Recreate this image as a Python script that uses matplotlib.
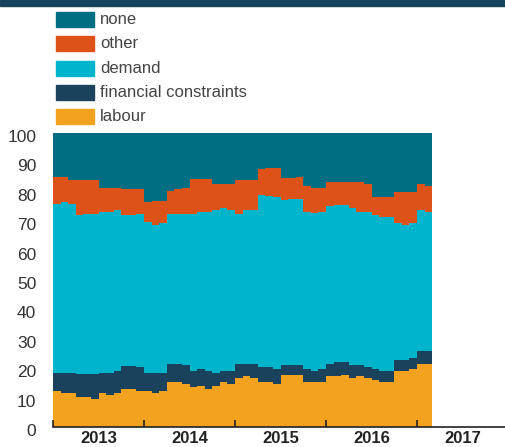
import matplotlib.pyplot as plt
from matplotlib.patches import Rectangle
from matplotlib.transforms import ScaledTranslation
import numpy as np

plt.rcParams['font.family'] = ['Liberation Sans', 'DejaVu Sans']

# monthly survey shares, Jan 2013 - Feb 2017 (percent)
labour = [12.1, 11.6, 11.6, 10.3, 10.3, 9.6, 11.6, 11.0, 11.6, 12.8, 12.8, 12.2,
          12.1, 11.6, 12.1, 15.3, 15.3, 14.7, 13.5, 14.1, 12.8, 14.1, 15.3, 14.7,
          16.6, 17.2, 16.6, 15.3, 15.3, 14.7, 17.8, 17.8, 17.8, 15.3, 15.3, 15.3,
          17.2, 17.2, 17.8, 16.6, 17.2, 16.6, 16.0, 15.3, 15.3, 19.0, 19.0, 19.6,
          21.5, 21.5]
financial = [6.4, 6.9, 6.9, 7.6, 7.6, 8.3, 6.9, 7.5, 7.4, 8.1, 8.1, 8.1,
             6.4, 6.9, 6.4, 6.2, 6.2, 6.3, 5.5, 5.5, 6.2, 4.4, 3.7, 4.3,
             4.9, 4.3, 4.9, 5.0, 5.0, 5.0, 3.2, 3.2, 3.2, 4.4, 3.7, 4.4,
             4.3, 5.0, 4.4, 4.4, 3.8, 3.7, 3.7, 3.7, 3.7, 3.9, 3.9, 3.9,
             4.5, 4.5]
demand = [57.2, 57.9, 57.2, 54.1, 54.7, 54.7, 54.5, 54.5, 54.8, 51.1, 51.1, 52.3,
          51.3, 50.3, 50.9, 51.1, 51.1, 51.6, 53.6, 53.5, 54.1, 55.3, 55.4, 54.8,
          51.1, 52.3, 52.3, 58.5, 58.4, 58.4, 56.1, 56.7, 56.7, 53.5, 53.7, 53.5,
          53.6, 53.4, 53.4, 53.5, 52.1, 52.8, 52.3, 52.3, 52.3, 46.5, 45.9, 45.9,
          47.8, 47.1]
other = [9.4, 8.7, 8.3, 12.0, 11.4, 11.4, 8.3, 8.3, 7.5, 8.8, 8.8, 8.2,
         6.6, 8.2, 7.6, 7.6, 8.2, 8.7, 11.9, 11.4, 11.4, 8.9, 8.3, 8.9,
         11.3, 10.1, 10.1, 8.8, 9.5, 10.1, 7.5, 6.9, 7.4, 8.8, 8.7, 8.2,
         8.2, 7.6, 7.6, 8.7, 10.1, 9.4, 6.1, 6.8, 6.8, 10.6, 11.2, 10.6,
         8.7, 8.9]

series = [labour, financial, demand, other]
names = ['labour', 'financial constraints', 'demand', 'other', 'none']
colors = ['#f3a21f', '#1a425c', '#00b4cb', '#dc5218', '#006e82']
years = ['2013', '2014', '2015', '2016', '2017']

n = len(labour)
x = 2013 + np.arange(n + 1) / 12.0

fig = plt.figure(figsize=(5.05, 4.47), dpi=100)
ax = fig.add_axes([53/505, 20/447, 452/505, 294/447])

bottom = np.zeros(n)
for vals, c in zip(series, colors[:4]):
    top = bottom + np.array(vals)
    ax.fill_between(x, np.append(bottom, bottom[-1]), np.append(top, top[-1]),
                    step='post', color=c, lw=0)
    bottom = top
ax.fill_between(x, np.append(bottom, bottom[-1]), 100, step='post', color=colors[4], lw=0)

ax.set_xlim(2013, 2013 + 452/91)
ax.set_ylim(0, 100)
for s in ['top', 'right', 'left']:
    ax.spines[s].set_visible(False)
ax.spines['bottom'].set_color('#222222')
ax.spines['bottom'].set_linewidth(1.2)

ax.set_yticks(range(0, 101, 10))
ax.tick_params(axis='y', length=0, pad=12, labelsize=12.5, labelcolor='#333333')
shift = ScaledTranslation(0, -3/100, fig.dpi_scale_trans)
for lab in ax.get_yticklabels():
    lab.set_transform(lab.get_transform() + shift)

ax.set_xticks([2013, 2014, 2015, 2016, 2017])
ax.set_xticklabels([])
ax.set_xticks([2013.5, 2014.5, 2015.5, 2016.5, 2017.5], minor=True)
ax.set_xticklabels(years, minor=True, fontweight='bold', fontsize=12, color='#222222')
ax.tick_params(axis='x', which='major', direction='in', length=5, width=1.2, color='#222222')
ax.tick_params(axis='x', which='minor', length=0, pad=3)

# top band
fig.patches.append(Rectangle((0, 1 - 6/447), 1, 6/447, transform=fig.transFigure,
                             color='#17425d', zorder=5))

# legend
legend_rows = list(zip(names[::-1], colors[::-1]))
for i, (name, c) in enumerate(legend_rows):
    yc = 19.5 + 24.3 * i
    fig.patches.append(Rectangle((56/505, 1 - (yc + 7.5)/447), 38/505, 15/447,
                                 transform=fig.transFigure, color=c))
    fig.text(100/505, 1 - yc/447, name, va='center', ha='left', fontsize=12,
             color='#444444')

fig.savefig('out.png', dpi=100)
